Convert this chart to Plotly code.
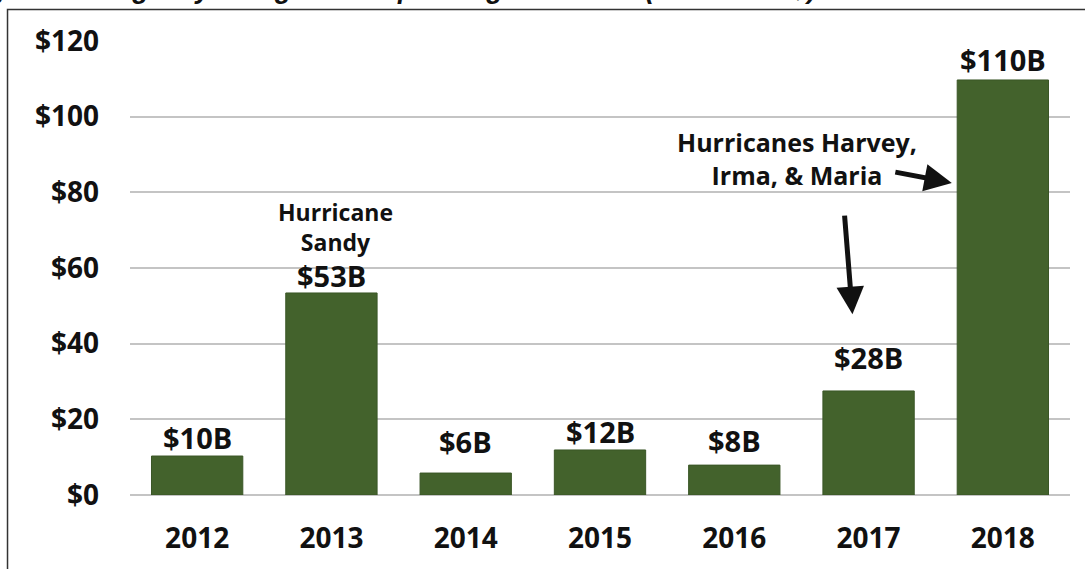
import plotly.graph_objects as go

years = ["2012", "2013", "2014", "2015", "2016", "2017", "2018"]
spending = [10.3, 53.4, 5.8, 11.9, 7.9, 27.5, 109.7]
labels = ["$10B", "$53B", "$6B", "$12B", "$8B", "$28B", "$110B"]
label_gap = [19, 17, 32, 18, 25, 33, 20]
y_ticks = [0, 20, 40, 60, 80, 100, 120]
y_tick_text = ["$0", "$20", "$40", "$60", "$80", "$100", "$120"]

GREEN = "#43622c"
FONT = "Open Sans"

pos = list(range(len(years)))

fig = go.Figure()
fig.add_trace(go.Bar(
    x=pos, y=spending,
    marker=dict(color=GREEN, line=dict(color="#3a5626", width=1)),
    width=0.68, customdata=years, hovertemplate="%{customdata}: %{y}<extra></extra>",
))

for i, v, lab, gap in zip(pos, spending, labels, label_gap):
    fig.add_annotation(x=i, y=v, text=lab, showarrow=False,
                       yanchor="middle", yshift=gap,
                       font=dict(family=FONT, size=29, color="#111", weight=700))

fig.add_annotation(x=1.03, y=70.8, text="Hurricane<br>Sandy", showarrow=False,
                   yanchor="middle",
                   font=dict(family=FONT, size=23, color="#111", weight=700))
fig.add_annotation(x=4.47, y=89, text="Hurricanes Harvey,<br>Irma, & Maria", showarrow=False,
                   yanchor="middle",
                   font=dict(family=FONT, size=25, color="#111", weight=700))

# arrows
fig.add_annotation(x=5.62, y=82.5, ax=-58, ay=-11, text="", showarrow=True,
                   arrowhead=2, arrowsize=1.1, arrowwidth=5, arrowcolor="#111")
fig.add_annotation(x=4.88, y=47.8, ax=-8, ay=-100, text="", showarrow=True,
                   arrowhead=2, arrowsize=1.1, arrowwidth=5, arrowcolor="#111")

# cut-off figure title at top
fig.add_annotation(xref="paper", yref="paper", x=(818 - 130) / 940, y=1.0771,
                   xanchor="right", yanchor="bottom", showarrow=False,
                   text="Fig. 11: Emergency Designation Spending over Time (Billions of $)",
                   font=dict(family="Liberation Sans", size=27, color="#111",
                             weight=700, style="italic"))

# frame border
fig.add_shape(type="rect", xref="paper", yref="paper",
              x0=-0.1303, y0=-0.176, x1=1.03, y1=1.0694,
              line=dict(color="#333", width=1.5), layer="above")

fig.update_layout(
    width=1085, height=569,
    margin=dict(l=130, r=15, t=41, b=74, autoexpand=False),
    paper_bgcolor="white", plot_bgcolor="white",
    showlegend=False,
    xaxis=dict(range=[-0.5, 6.5], tickvals=pos, ticktext=years,
               showgrid=False, showline=False, zeroline=False, ticks="",
               automargin=False,
               tickfont=dict(family=FONT, size=28, color="#111", weight=700),
               ticklabelstandoff=24),
    yaxis=dict(range=[0, 120], tickvals=y_ticks, ticktext=y_tick_text,
               automargin=False,
               showgrid=True, gridcolor="#c4c4c4", gridwidth=1.5,
               zeroline=True, zerolinecolor="#c4c4c4", zerolinewidth=1.5,
               showline=False, ticks="",
               tickfont=dict(family=FONT, size=28, color="#111", weight=700),
               ticklabelstandoff=30),
)

fig.write_html("out.html", config={"displayModeBar": False},
               post_script="document.body.style.margin='0';document.body.style.overflow='hidden';")
